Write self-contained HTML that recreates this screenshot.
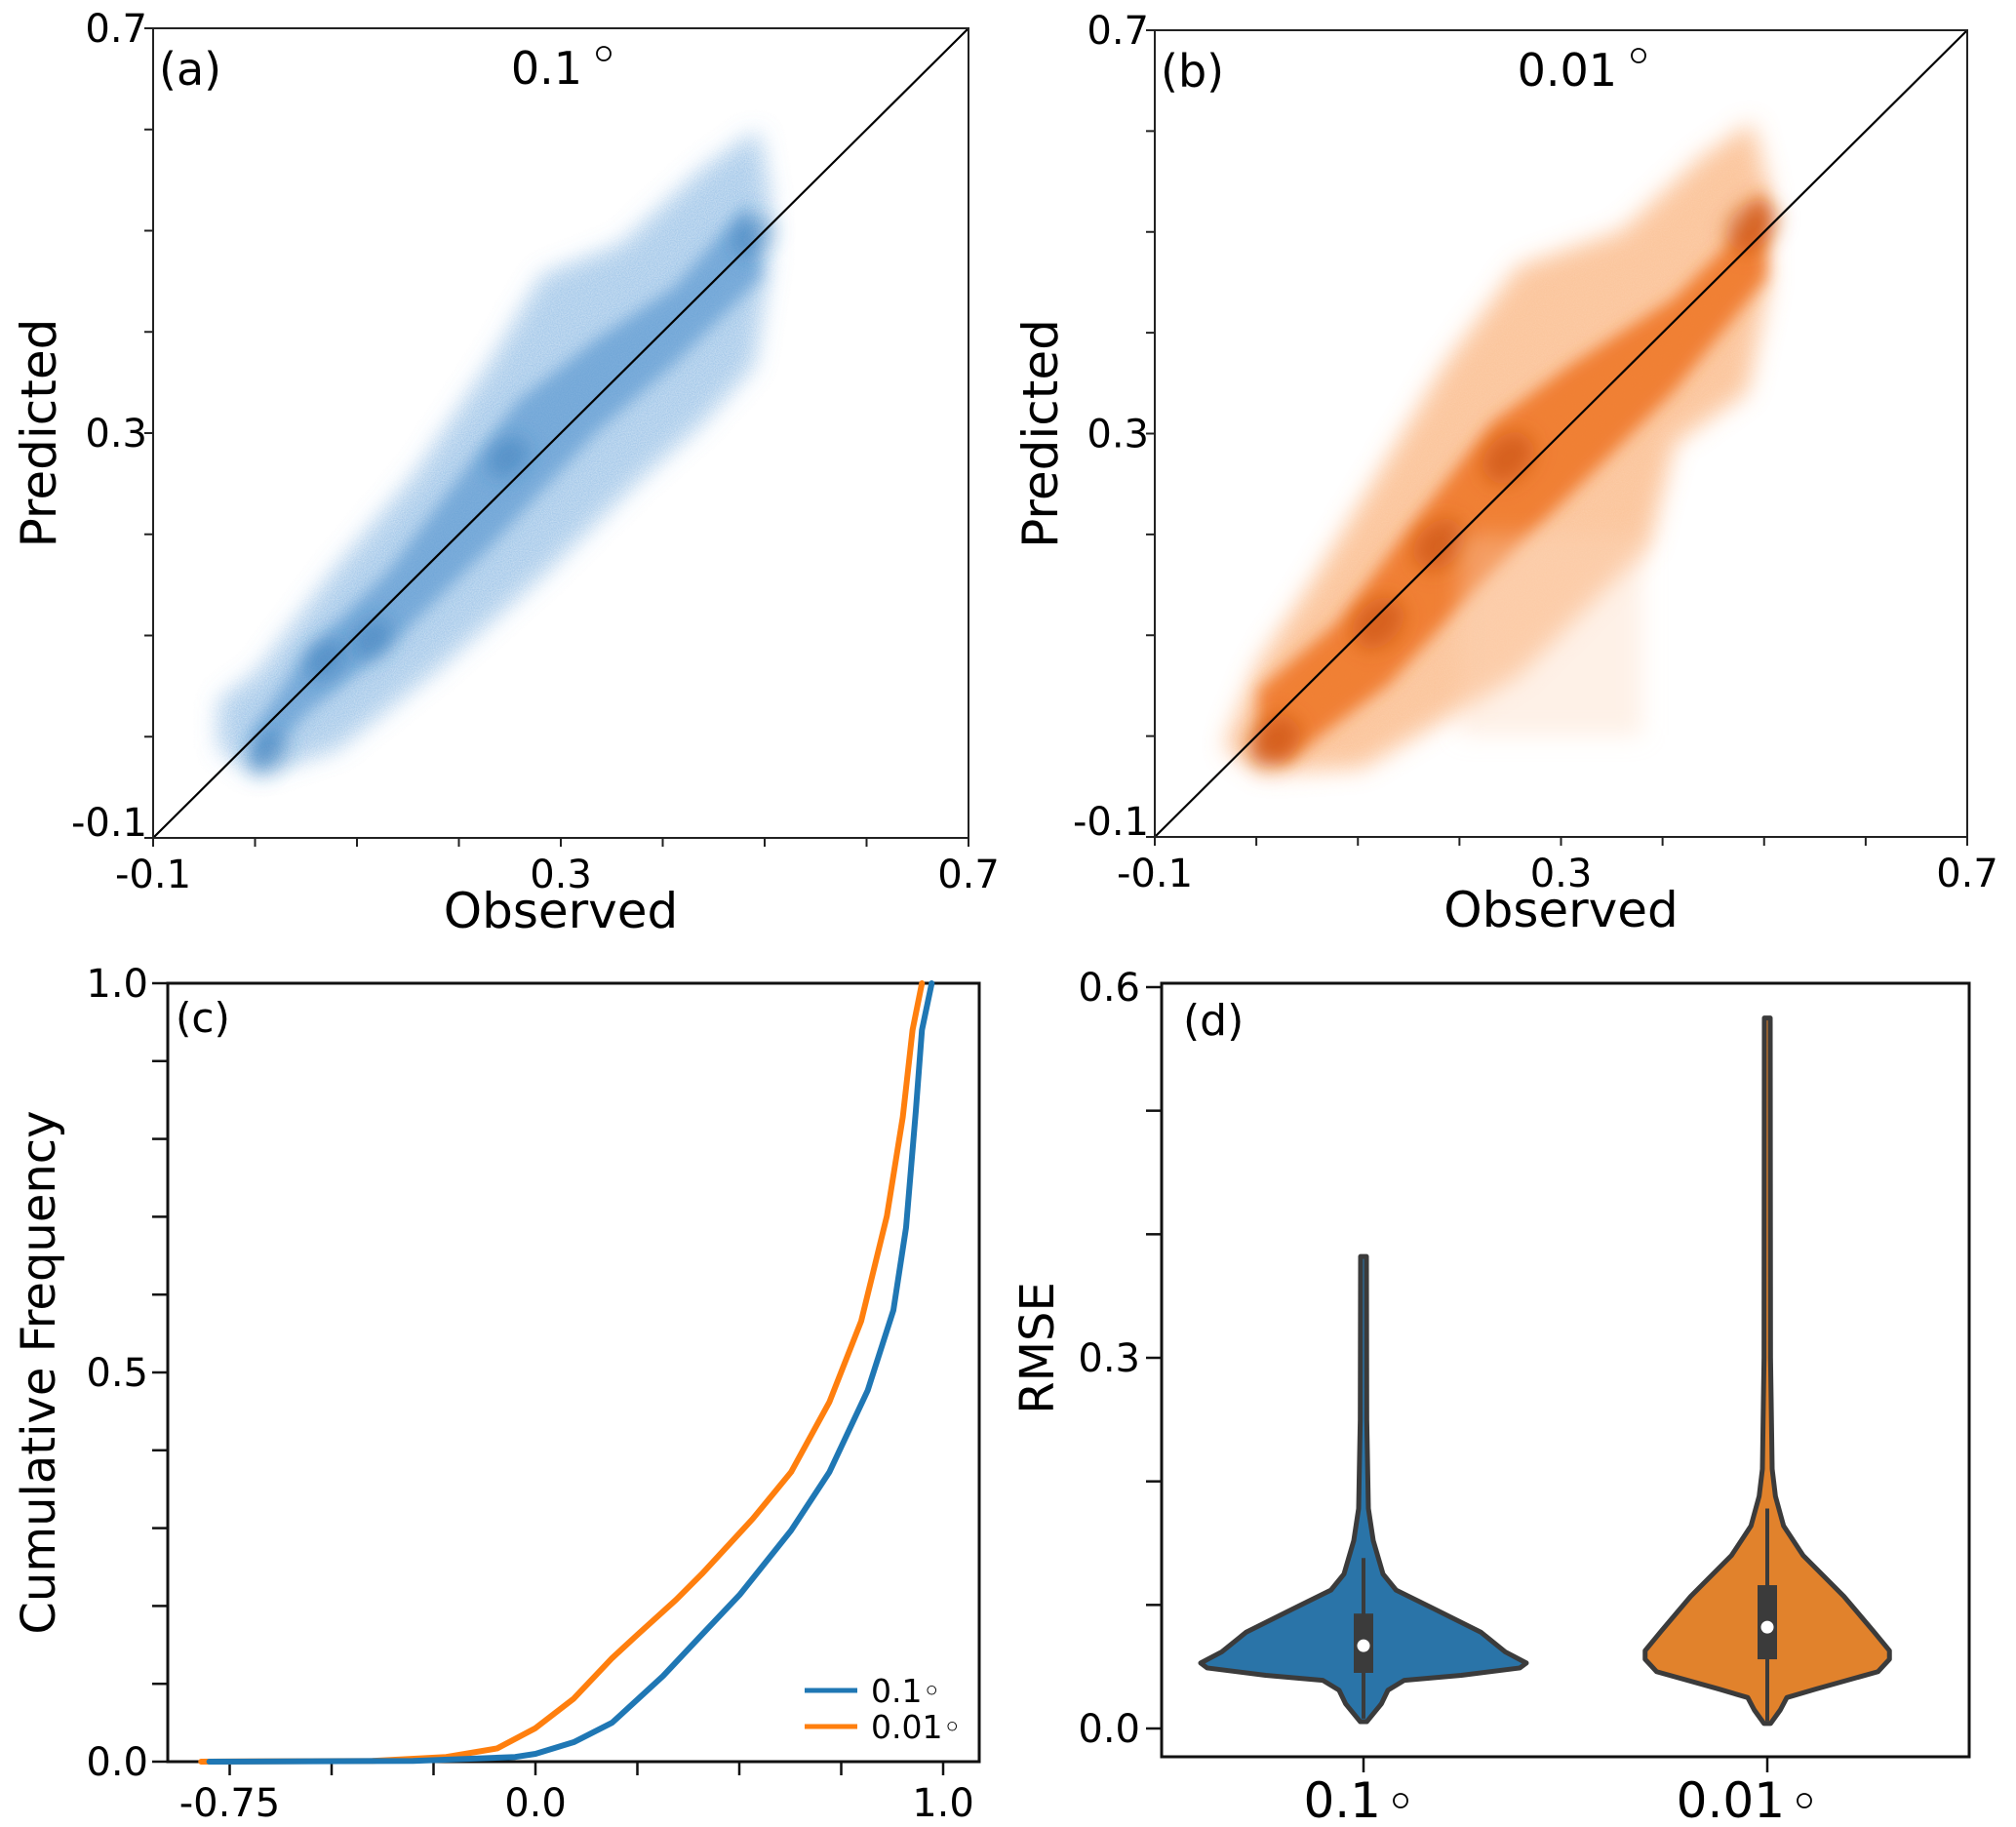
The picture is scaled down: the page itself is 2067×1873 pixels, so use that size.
<!DOCTYPE html>
<html><head><meta charset="utf-8"><style>
html,body{margin:0;padding:0;background:#fff}
svg{display:block}
text{font-family:"DejaVu Sans","Liberation Sans",sans-serif;fill:#000}
</style></head><body>
<svg id="fig" width="2067" height="1873" viewBox="0 0 2067 1873" xmlns="http://www.w3.org/2000/svg">
<defs>
<filter id="blur1" x="-20%" y="-20%" width="140%" height="140%"><feGaussianBlur stdDeviation="12"/></filter>
<filter id="blur2" x="-20%" y="-20%" width="140%" height="140%"><feGaussianBlur stdDeviation="8"/></filter>
<filter id="blur3" x="-50%" y="-50%" width="200%" height="200%"><feGaussianBlur stdDeviation="10"/></filter>
<filter id="speck" x="-20%" y="-20%" width="140%" height="140%">
  <feTurbulence type="fractalNoise" baseFrequency="0.9" numOctaves="1" seed="3" result="n"/>
  <feColorMatrix in="n" type="matrix" values="0 0 0 0 1  0 0 0 0 1  0 0 0 0 1  0 0 0 -1.2 1.1" result="m"/>
  <feGaussianBlur in="SourceGraphic" stdDeviation="12" result="b"/>
  <feComposite in="b" in2="m" operator="in"/>
</filter>
<clipPath id="clipA"><rect x="157" y="29" width="836" height="830"/></clipPath>
<clipPath id="clipB"><rect x="1184" y="31" width="833" height="827"/></clipPath>
</defs>
<g id="root"></g>
</svg>
<script>
// ---------- Panel (a) data: density band of 0.1° ----------
const aOuterUpperObs = [-0.034,0.002,0.079,0.156,0.232,0.283,0.36,0.437,0.493,0.503];
const aOuterUpperPred = [0.035,0.061,0.163,0.255,0.368,0.455,0.485,0.557,0.598,0.536];
const aOuterLowerObs = [0.503,0.488,0.437,0.375,0.283,0.181,0.079,0.002,-0.034];
const aOuterLowerPred = [0.47,0.368,0.311,0.255,0.163,0.071,-0.011,-0.036,-0.011];
const aCoreUpperObs = [-0.003,0.053,0.13,0.207,0.258,0.335,0.411,0.483];
const aCoreUpperPred = [0.005,0.087,0.163,0.265,0.332,0.393,0.444,0.526];
const aCoreLowerObs = [0.498,0.411,0.335,0.232,0.13,0.053,0.002];
const aCoreLowerPred = [0.455,0.368,0.301,0.189,0.087,0.025,-0.031];
const aSpotObs = [0.012,0.115,0.069,0.248,0.488];
const aSpotPred = [-0.016,0.097,0.076,0.276,0.495];
// ---------- Panel (b) data: density band of 0.01° ----------
const bOuterUpperObs = [-0.031,0.002,0.053,0.115,0.186,0.258,0.36,0.437,0.488,0.503];
const bOuterUpperPred = [-0.011,0.071,0.148,0.25,0.368,0.465,0.5,0.572,0.608,0.547];
const bOuterLowerObs = [0.503,0.483,0.411,0.386,0.258,0.104,0.007];
const bOuterLowerPred = [0.444,0.342,0.291,0.189,0.061,-0.031,-0.036];
const bCoreUpperObs = [0.002,0.079,0.156,0.232,0.309,0.411,0.483,0.498];
const bCoreUpperPred = [0.046,0.112,0.214,0.311,0.368,0.434,0.506,0.547];
const bCoreLowerObs = [0.503,0.411,0.335,0.232,0.13,0.028,0.002];
const bCoreLowerPred = [0.455,0.342,0.265,0.163,0.051,-0.026,-0.016];
const bSpotObs = [0.248,0.12,0.018,0.488,0.18];
const bSpotPred = [0.276,0.112,-0.005,0.506,0.19];
const scatterTicks = [-0.1,0,0.1,0.2,0.3,0.4,0.5,0.6,0.7];
const scatterTickLabels = ["-0.1","","","","0.3","","","","0.7"];
// ---------- Panel (c) data: CDF ----------
const cdfBlueX = [-0.8,-0.3,-0.05,0,0.094,0.188,0.313,0.408,0.502,0.627,0.721,0.815,0.878,0.909,0.933,0.948,0.972];
const cdfBlueY = [0,0.001,0.006,0.01,0.025,0.05,0.11,0.163,0.215,0.297,0.372,0.477,0.58,0.686,0.836,0.94,1.0];
const cdfOrangeX = [-0.82,-0.4,-0.219,-0.094,0,0.094,0.188,0.25,0.345,0.408,0.533,0.627,0.721,0.799,0.862,0.901,0.925,0.948];
const cdfOrangeY = [0,0.001,0.006,0.017,0.043,0.081,0.133,0.163,0.208,0.241,0.312,0.372,0.462,0.566,0.701,0.828,0.94,1.0];
const cdfXTicks = [-0.75,-0.5,-0.25,0,0.25,0.5,0.75,1.0];
const cdfXTickLabels = ["-0.75","","","0.0","","","","1.0"];
const cdfYTicks = [0,0.1,0.2,0.3,0.4,0.5,0.6,0.7,0.8,0.9,1.0];
const cdfYTickLabels = ["0.0","","","","","0.5","","","","","1.0"];
// ---------- Panel (d) data: violins ----------
const violinCats = ["0.1", "0.01"];
const blueViolinV = [0.0055,0.02,0.031,0.039,0.043,0.049,0.053,0.062,0.078,0.099,0.112,0.125,0.152,0.178,0.25,0.382];
const blueViolinW = [0.02,0.11,0.15,0.25,0.6,0.96,1.0,0.87,0.72,0.40,0.2,0.12,0.06,0.03,0.02,0.018];
const orangeViolinV = [0.004,0.015,0.025,0.032,0.046,0.056,0.063,0.079,0.107,0.14,0.164,0.188,0.21,0.3,0.575];
const orangeViolinW = [0.02,0.08,0.12,0.3,0.68,0.75,0.75,0.65,0.47,0.22,0.1,0.05,0.03,0.02,0.018];
const boxQ1 = [0.045,0.056];
const boxQ3 = [0.093,0.116];
const boxMedian = [0.067,0.082];
const whiskerLow = [0.008,0.006];
const whiskerHigh = [0.138,0.178];
const rmseTicks = [0,0.1,0.2,0.3,0.4,0.5,0.6];
const rmseTickLabels = ["0.0","","","0.3","","","0.6"];

const NS = "http://www.w3.org/2000/svg";
const root = document.getElementById('root');
function mk(tag, attrs, parent){ const e=document.createElementNS(NS,tag); for(const k in attrs) e.setAttribute(k,attrs[k]); (parent||root).appendChild(e); return e; }
function lin(d0,d1,r0,r1){ return v => r0 + (v-d0)/(d1-d0)*(r1-r0); }
function txt(x,y,s,size,anchor,parent,name){ const t=mk('text',{x:x,y:y,'font-size':size,'text-anchor':anchor||'middle'},parent); t.textContent=s;   return t; }

function scatterPanel(cfg){
  const g = mk('g',{});
  
  
  const sx = lin(-0.1,0.7,cfg.L,cfg.R), sy = lin(-0.1,0.7,cfg.B,cfg.T);
  const dg = mk('g',{'clip-path':'url(#'+cfg.clip+')'},g);
  
  
  function poly(ux,uy,lx,ly){ const p=[]; for(let i=0;i<ux.length;i++) p.push(sx(ux[i])+','+sy(uy[i])); for(let i=0;i<lx.length;i++) p.push(sx(lx[i])+','+sy(ly[i])); return p.join(' '); }
  const op = poly(cfg.ou[0],cfg.ou[1],cfg.ol[0],cfg.ol[1]);
  const halo = mk('polygon',{points:op,fill:cfg.c0,filter:'url(#speck)',transform:'translate(0,0) scale(1)'},dg);
  
  
  const outer = mk('polygon',{points:op,fill:cfg.c1,filter:'url(#blur1)'},dg);
  
  
  const core = mk('polygon',{points:poly(cfg.cu[0],cfg.cu[1],cfg.cl[0],cfg.cl[1]),fill:cfg.c2,filter:'url(#blur2)'},dg);
  
  
  for(let i=0;i<cfg.sp[0].length;i++){
    const e = mk('ellipse',{cx:sx(cfg.sp[0][i]),cy:sy(cfg.sp[1][i]),rx:cfg.sr[0],ry:cfg.sr[1],fill:cfg.c3,filter:'url(#blur3)',transform:'rotate(-45 '+sx(cfg.sp[0][i])+' '+sy(cfg.sp[1][i])+')'},dg);
    
    
  }
  if(cfg.extra){ cfg.extra(dg,sx,sy); }
  const d = mk('line',{x1:sx(-0.1),y1:sy(-0.1),x2:sx(0.7),y2:sy(0.7),stroke:'#000','stroke-width':2.2},g);
  
  
  const fr = mk('rect',{x:cfg.L,y:cfg.T,width:cfg.R-cfg.L,height:cfg.B-cfg.T,fill:'none',stroke:'#222','stroke-width':2},g);
  
  
  scatterTicks.forEach((v,i)=>{
    const tx = mk('line',{x1:sx(v),x2:sx(v),y1:cfg.B,y2:cfg.B+9,stroke:'#222','stroke-width':2},g);
    
    
    const ty = mk('line',{x1:cfg.L-9,x2:cfg.L,y1:sy(v),y2:sy(v),stroke:'#222','stroke-width':2},g);
    
    
    if(scatterTickLabels[i]){
      txt(sx(v),cfg.B+51,scatterTickLabels[i],40,'middle',g,'x-tick-label');
      txt(cfg.L-6,sy(v)+ (i===0?-2:14),scatterTickLabels[i],40,'end',g,'y-tick-label');
    }
  });
  txt((cfg.L+cfg.R)/2,cfg.B+92,'Observed',50,'middle',g,'x-axis-title');
  const yt = txt(0,0,'Predicted',50,'middle',g,'y-axis-title');
  yt.setAttribute('transform','translate('+(cfg.L-100)+','+((cfg.T+cfg.B)/2)+') rotate(-90)');
  txt(cfg.L+6,cfg.T+58,cfg.label,46,'start',g,'panel-label');
  txt(cfg.titleX,cfg.T+57,cfg.title,46,'end',g,'panel-title');
  const dc = mk('circle',{cx:cfg.titleX+22,cy:cfg.T+26,r:7,fill:'none',stroke:'#000','stroke-width':1.8},g);
  
  
}

scatterPanel({name:'panel-a',clip:'clipA',L:157,R:993,T:29,B:859,label:'(a)',title:'0.1',titleX:597,sr:[24,18],
  ou:[aOuterUpperObs,aOuterUpperPred],ol:[aOuterLowerObs,aOuterLowerPred],
  cu:[aCoreUpperObs,aCoreUpperPred],cl:[aCoreLowerObs,aCoreLowerPred],sp:[aSpotObs,aSpotPred],
  c0:'rgba(120,170,220,0.7)',c1:'rgba(150,192,230,0.45)',c2:'rgba(80,145,205,0.62)',c3:'rgba(45,115,180,0.45)'});
scatterPanel({name:'panel-b',clip:'clipB',L:1184,R:2017,T:31,B:858,label:'(b)',title:'0.01',titleX:1658,sr:[30,22],
  ou:[bOuterUpperObs,bOuterUpperPred],ol:[bOuterLowerObs,bOuterLowerPred],
  cu:[bCoreUpperObs,bCoreUpperPred],cl:[bCoreLowerObs,bCoreLowerPred],sp:[bSpotObs,bSpotPred],
  c0:'rgba(250,180,130,0.3)',c1:'rgba(250,170,110,0.6)',c2:'rgba(240,120,40,0.9)',c3:'rgba(200,80,10,0.65)',
  extra:function(dg,sx,sy){
    const r = mk('rect',{x:sx(0.2),y:sy(0.2),width:sx(0.38)-sx(0.2),height:sy(0.0)-sy(0.2),fill:'rgba(252,215,185,0.35)',filter:'url(#blur1)'},dg);
    
    
  }});

// ---------- Panel (c) ----------
(function(){
  const L=172,R=1004,T=1008,B=1806;
  const g = mk('g',{});
  
  
  const sx = lin(0,1,549,967), sy = lin(0,1,B,T);
  const fr = mk('rect',{x:L,y:T,width:R-L,height:B-T,fill:'none',stroke:'#111','stroke-width':3},g);
  
  
  cdfXTicks.forEach((v,i)=>{
    const t = mk('line',{x1:sx(v),x2:sx(v),y1:B,y2:B+14,stroke:'#111','stroke-width':2.5},g);
    
    
    if(cdfXTickLabels[i]) txt(sx(v),B+56,cdfXTickLabels[i],40,'middle',g,'x-tick-label');
  });
  cdfYTicks.forEach((v,i)=>{
    const t = mk('line',{x1:L-16,x2:L,y1:sy(v),y2:sy(v),stroke:'#111','stroke-width':2.5},g);
    
    
    if(cdfYTickLabels[i]) txt(L-20,sy(v)+14,cdfYTickLabels[i],40,'end',g,'y-tick-label');
  });
  function line(xs,ys,col,name){
    const p = xs.map((x,i)=>sx(x)+','+sy(ys[i])).join(' ');
    const l = mk('polyline',{points:p,fill:'none',stroke:col,'stroke-width':6,'stroke-linejoin':'round','stroke-linecap':'round'},g);
    
    
  }
  line(cdfOrangeX,cdfOrangeY,'#ff7f0e','cdf-line-0.01');
  line(cdfBlueX,cdfBlueY,'#1f77b4','cdf-line-0.1');
  const l1 = mk('line',{x1:825,x2:879,y1:1733,y2:1733,stroke:'#1f77b4','stroke-width':5},g);
  
  
  const l2 = mk('line',{x1:825,x2:879,y1:1770,y2:1770,stroke:'#ff7f0e','stroke-width':5},g);
  
  
  txt(893,1745,'0.1◦',33,'start',g,'legend-entry-0.1');
  txt(893,1782,'0.01◦',33,'start',g,'legend-entry-0.01');
  txt(L+8,T+50,'(c)',42,'start',g,'panel-label');
  const yt = txt(0,0,'Cumulative Frequency',48,'middle',g,'y-axis-title');
  yt.setAttribute('transform','translate(56,'+((T+B)/2)+') rotate(-90)');
})();

// ---------- Panel (d) ----------
(function(){
  const L=1191,R=2019,T=1008,B=1801;
  const g = mk('g',{});
  
  
  const sy = lin(0,0.6,1772,1012);
  const cx = i => L + (R-L)*(i+0.5)/violinCats.length;
  const maxHW = 167;
  const fr = mk('rect',{x:L,y:T,width:R-L,height:B-T,fill:'none',stroke:'#111','stroke-width':3},g);
  
  
  rmseTicks.forEach((v,i)=>{
    const t = mk('line',{x1:L-16,x2:L,y1:sy(v),y2:sy(v),stroke:'#111','stroke-width':2.5},g);
    
    
    if(rmseTickLabels[i]) txt(L-22,sy(v)+14,rmseTickLabels[i],40,'end',g,'y-tick-label');
  });
  const vs = [[blueViolinV,blueViolinW,'#2a74a8'],[orangeViolinV,orangeViolinW,'#e1822c']];
  vs.forEach((s,i)=>{
    const c = cx(i);
    const pts=[];
    for(let k=0;k<s[0].length;k++) pts.push((c+s[1][k]*maxHW)+','+sy(s[0][k]));
    for(let k=s[0].length-1;k>=0;k--) pts.push((c-s[1][k]*maxHW)+','+sy(s[0][k]));
    const v = mk('polygon',{points:pts.join(' '),fill:s[2],stroke:'#3b3b3b','stroke-width':5,'stroke-linejoin':'round'},g);
    
    
    const w = mk('line',{x1:c,x2:c,y1:sy(whiskerLow[i]),y2:sy(whiskerHigh[i]),stroke:'#3b3b3b','stroke-width':4},g);
    
    
    const b = mk('rect',{x:c-10,y:sy(boxQ3[i]),width:20,height:sy(boxQ1[i])-sy(boxQ3[i]),fill:'#3b3b3b'},g);
    
    
    const m = mk('circle',{cx:c,cy:sy(boxMedian[i]),r:6.5,fill:'#fff'},g);
    
    
    const t = mk('line',{x1:c,x2:c,y1:B,y2:B+16,stroke:'#111','stroke-width':2.5},g);
    
    
    txt(c+18,B+62,violinCats[i],50,'end',g,'x-tick-label');
    const dc = mk('circle',{cx:c+38,cy:B+45,r:7,fill:'none',stroke:'#000','stroke-width':1.8},g);
    
    
  });
  txt(L+22,T+53,'(d)',44,'start',g,'panel-label');
  const yt = txt(0,0,'RMSE',48,'middle',g,'y-axis-title');
  yt.setAttribute('transform','translate(1080,1382) rotate(-90)');
})();
</script>
</body></html>
